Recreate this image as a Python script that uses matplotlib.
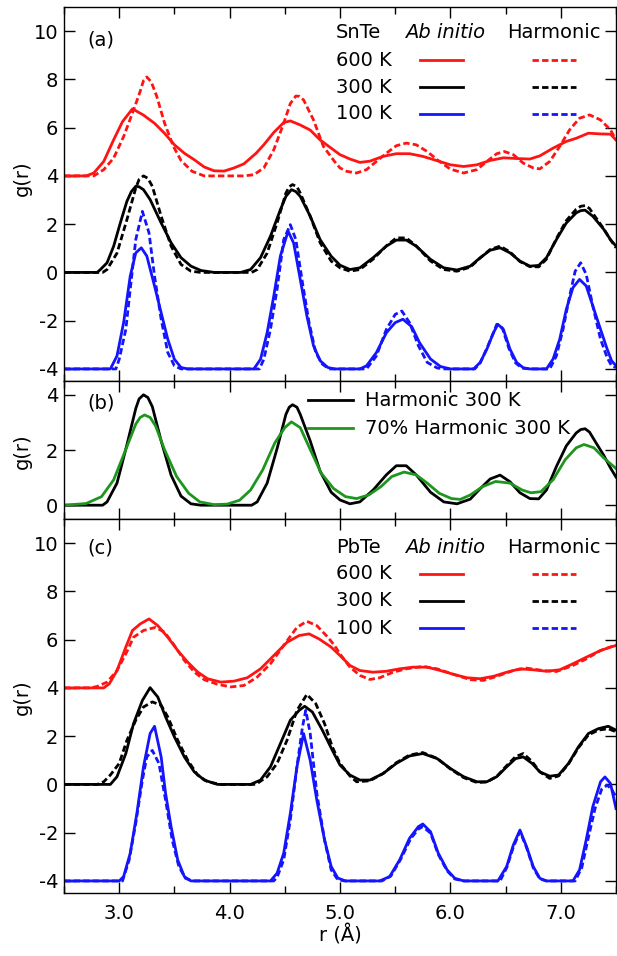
import matplotlib
matplotlib.use("Agg")
import matplotlib.pyplot as plt
from matplotlib.ticker import MultipleLocator, FormatStrFormatter

plt.rcParams['font.family'] = ['DejaVu Sans']
plt.rcParams['font.size'] = 14
plt.rcParams['axes.unicode_minus'] = False

###########--data: (r, g(r)), no offsets--###########

snte_600_ai = [(2.5, 0), (2.70, 0), (2.77, 0.12), (2.86, 0.6), (2.95, 1.5), (3.03, 2.25), (3.12, 2.78),
               (3.22, 2.52), (3.32, 2.18), (3.41, 1.77), (3.50, 1.29), (3.59, 0.94), (3.68, 0.67), (3.77, 0.37),
               (3.86, 0.21), (3.95, 0.2), (4.04, 0.33), (4.13, 0.5), (4.24, 0.94), (4.31, 1.29), (4.40, 1.8),
               (4.49, 2.21), (4.55, 2.28), (4.64, 2.11), (4.73, 1.9), (4.82, 1.49), (4.92, 1.15), (5.0, 0.88),
               (5.09, 0.7), (5.18, 0.56), (5.27, 0.61), (5.39, 0.81), (5.51, 0.92), (5.63, 0.92), (5.75, 0.81),
               (5.88, 0.63), (6.0, 0.46), (6.12, 0.39), (6.24, 0.46), (6.36, 0.64), (6.48, 0.75), (6.6, 0.72),
               (6.72, 0.7), (6.81, 0.83), (6.93, 1.15), (7.05, 1.43), (7.14, 1.56), (7.25, 1.77), (7.36, 1.74),
               (7.45, 1.73), (7.5, 1.49)]
snte_600_h = [(2.5, 0), (2.77, 0), (2.86, 0.26), (2.95, 0.74), (3.04, 1.63), (3.12, 2.6), (3.19, 3.5),
              (3.22, 3.95), (3.25, 4.1), (3.29, 3.9), (3.34, 3.3), (3.41, 2.2), (3.49, 1.23), (3.56, 0.64),
              (3.66, 0.19), (3.77, 0.0), (4.13, 0.0), (4.22, 0.05), (4.31, 0.33), (4.40, 1.08), (4.49, 2.18),
              (4.55, 3.0), (4.60, 3.31), (4.63, 3.3), (4.67, 3.15), (4.76, 2.32), (4.85, 1.22), (4.95, 0.6),
              (5.0, 0.33), (5.06, 0.19), (5.15, 0.12), (5.24, 0.26), (5.33, 0.6), (5.42, 0.94), (5.51, 1.25),
              (5.6, 1.36), (5.69, 1.29), (5.79, 1.01), (5.88, 0.67), (6.0, 0.28), (6.12, 0.12), (6.24, 0.26),
              (6.33, 0.6), (6.42, 0.92), (6.49, 1.01), (6.57, 0.88), (6.66, 0.53), (6.75, 0.33), (6.81, 0.29),
              (6.9, 0.6), (6.99, 1.22), (7.08, 1.91), (7.17, 2.39), (7.26, 2.53), (7.36, 2.32), (7.45, 1.91),
              (7.5, 1.49)]
snte_300_ai = [(2.5, 0), (2.80, 0), (2.83, 0.12), (2.89, 0.4), (2.95, 1.09), (3.01, 2.05), (3.07, 2.95),
               (3.11, 3.35), (3.15, 3.57), (3.18, 3.55), (3.22, 3.43), (3.28, 3.02), (3.38, 2.05), (3.47, 1.23),
               (3.56, 0.61), (3.65, 0.26), (3.74, 0.08), (3.86, 0.0), (4.10, 0.0), (4.19, 0.12), (4.28, 0.61),
               (4.37, 1.5), (4.46, 2.6), (4.51, 3.15), (4.56, 3.43), (4.60, 3.35), (4.64, 3.15), (4.73, 2.33),
               (4.82, 1.36), (4.92, 0.67), (5.0, 0.3), (5.09, 0.12), (5.18, 0.19), (5.3, 0.61), (5.42, 1.09),
               (5.51, 1.34), (5.6, 1.34), (5.69, 1.09), (5.82, 0.54), (5.94, 0.19), (6.06, 0.1), (6.18, 0.26),
               (6.27, 0.61), (6.36, 0.92), (6.45, 1.02), (6.54, 0.81), (6.63, 0.47), (6.72, 0.26), (6.8, 0.29),
               (6.87, 0.61), (6.96, 1.36), (7.05, 2.05), (7.14, 2.47), (7.18, 2.56), (7.22, 2.58), (7.29, 2.33),
               (7.39, 1.78), (7.45, 1.36), (7.5, 1.09)]
snte_300_h = [(2.5, 0), (2.85, 0), (2.89, 0.12), (2.98, 0.8), (3.07, 2.19), (3.15, 3.5), (3.18, 3.85),
              (3.22, 4.0), (3.26, 3.9), (3.30, 3.57), (3.38, 2.33), (3.47, 1.09), (3.56, 0.33), (3.65, 0.05),
              (3.74, 0), (4.20, 0), (4.25, 0.12), (4.34, 0.8), (4.43, 2.05), (4.51, 3.29), (4.54, 3.55),
              (4.57, 3.64), (4.61, 3.55), (4.64, 3.29), (4.73, 2.33), (4.82, 1.23), (4.92, 0.47), (5.0, 0.19),
              (5.09, 0.05), (5.18, 0.12), (5.3, 0.55), (5.42, 1.1), (5.51, 1.43), (5.6, 1.43), (5.69, 1.1),
              (5.82, 0.47), (5.94, 0.12), (6.06, 0.05), (6.18, 0.22), (6.27, 0.6), (6.36, 0.95), (6.45, 1.09),
              (6.54, 0.85), (6.63, 0.45), (6.72, 0.24), (6.8, 0.23), (6.87, 0.55), (6.96, 1.4), (7.05, 2.15),
              (7.14, 2.62), (7.18, 2.74), (7.22, 2.77), (7.26, 2.65), (7.29, 2.45), (7.39, 1.8), (7.45, 1.35),
              (7.5, 1.02)]
snte_100_ai = [(2.5, 0), (2.92, 0), (2.98, 0.54), (3.04, 1.92), (3.10, 3.85), (3.15, 4.81), (3.20, 5.02),
               (3.25, 4.68), (3.32, 3.44), (3.38, 2.33), (3.44, 1.23), (3.50, 0.4), (3.56, 0.06), (3.62, 0),
               (4.22, 0), (4.28, 0.4), (4.34, 1.5), (4.40, 3.02), (4.46, 4.68), (4.53, 5.71), (4.58, 5.22),
               (4.64, 3.71), (4.70, 2.2), (4.76, 0.96), (4.82, 0.34), (4.89, 0.06), (4.95, 0), (5.18, 0),
               (5.24, 0.13), (5.33, 0.68), (5.42, 1.5), (5.5, 1.92), (5.57, 2.06), (5.65, 1.75), (5.72, 1.09),
               (5.82, 0.41), (5.91, 0.1), (6.0, 0), (6.21, 0), (6.27, 0.27), (6.33, 0.82), (6.39, 1.5),
               (6.43, 1.85), (6.48, 1.64), (6.54, 0.82), (6.6, 0.27), (6.66, 0.05), (6.72, 0), (6.87, 0),
               (6.93, 0.41), (6.99, 1.23), (7.05, 2.47), (7.11, 3.37), (7.17, 3.71), (7.23, 3.44), (7.29, 2.61),
               (7.36, 1.64), (7.42, 0.82), (7.46, 0.34), (7.5, 0.13)]
snte_100_h = [(2.5, 0), (2.97, 0), (3.0, 0.4), (3.06, 1.64), (3.10, 3.3), (3.15, 5.36), (3.21, 6.53),
              (3.27, 5.64), (3.32, 3.85), (3.38, 2.06), (3.44, 0.68), (3.50, 0.13), (3.56, 0), (4.27, 0),
              (4.31, 0.4), (4.37, 1.64), (4.43, 3.3), (4.49, 5.36), (4.55, 5.98), (4.60, 5.36), (4.66, 3.57),
              (4.72, 1.92), (4.78, 0.68), (4.84, 0.2), (4.90, 0), (5.24, 0), (5.33, 0.54), (5.42, 1.64),
              (5.5, 2.26), (5.56, 2.4), (5.63, 1.92), (5.71, 0.96), (5.79, 0.27), (5.88, 0.04), (5.95, 0),
              (6.22, 0), (6.27, 0.25), (6.33, 0.85), (6.39, 1.5), (6.42, 1.85), (6.47, 1.7), (6.53, 0.85),
              (6.59, 0.25), (6.65, 0.03), (6.72, 0), (6.9, 0), (6.96, 0.54), (7.02, 1.64), (7.08, 3.02),
              (7.13, 4.05), (7.18, 4.4), (7.23, 3.92), (7.29, 2.61), (7.36, 1.23), (7.42, 0.47), (7.46, 0.13),
              (7.5, 0.05)]

# panel (b): 70 % of the harmonic force constants, SnTe 300 K
snte_300_h70 = [(2.5, 0), (2.7, 0.06), (2.84, 0.31), (2.95, 0.92), (3.06, 2.02), (3.15, 2.94), (3.19, 3.18),
                (3.23, 3.27), (3.28, 3.18), (3.33, 2.87), (3.41, 2.02), (3.52, 1.04), (3.63, 0.43), (3.73, 0.12),
                (3.86, 0.02), (3.98, 0.04), (4.09, 0.18), (4.19, 0.55), (4.30, 1.28), (4.41, 2.26), (4.50, 2.81),
                (4.56, 3.02), (4.64, 2.81), (4.73, 2.02), (4.83, 1.16), (4.94, 0.61), (5.05, 0.31), (5.15, 0.24),
                (5.26, 0.37), (5.37, 0.67), (5.47, 1.04), (5.58, 1.2), (5.69, 1.1), (5.79, 0.8), (5.90, 0.43),
                (6.01, 0.24), (6.09, 0.21), (6.18, 0.37), (6.29, 0.67), (6.41, 0.86), (6.54, 0.8), (6.65, 0.55),
                (6.73, 0.45), (6.82, 0.49), (6.93, 0.92), (7.04, 1.65), (7.14, 2.08), (7.21, 2.2), (7.3, 2.08),
                (7.39, 1.71), (7.5, 1.33)]

pbte_600_ai = [(2.5, 0), (2.86, 0), (2.91, 0.17), (2.98, 0.72), (3.06, 1.69), (3.12, 2.38), (3.19, 2.65),
               (3.27, 2.86), (3.35, 2.58), (3.44, 2.1), (3.53, 1.55), (3.62, 1.07), (3.71, 0.66), (3.80, 0.38),
               (3.92, 0.24), (4.04, 0.28), (4.16, 0.42), (4.28, 0.79), (4.40, 1.34), (4.52, 1.89), (4.63, 2.17),
               (4.72, 2.24), (4.81, 2.03), (4.92, 1.69), (5.0, 1.34), (5.09, 0.93), (5.18, 0.72), (5.3, 0.65),
               (5.42, 0.69), (5.54, 0.79), (5.66, 0.86), (5.79, 0.86), (5.91, 0.72), (6.03, 0.56), (6.15, 0.42),
               (6.27, 0.38), (6.39, 0.48), (6.51, 0.65), (6.63, 0.79), (6.75, 0.75), (6.87, 0.69), (6.99, 0.75),
               (7.11, 1.0), (7.23, 1.27), (7.36, 1.55), (7.45, 1.69), (7.5, 1.76)]
pbte_600_h = [(2.5, 0), (2.74, 0), (2.80, 0.06), (2.89, 0.24), (2.98, 0.72), (3.06, 1.41), (3.13, 2.1),
              (3.22, 2.38), (3.33, 2.51), (3.41, 2.31), (3.50, 1.76), (3.59, 1.14), (3.68, 0.66), (3.77, 0.34),
              (3.89, 0.15), (4.01, 0.04), (4.13, 0.1), (4.25, 0.45), (4.37, 1.0), (4.49, 1.76), (4.61, 2.51),
              (4.70, 2.76), (4.79, 2.58), (4.89, 2.1), (4.95, 1.76), (5.0, 1.41), (5.09, 0.86), (5.18, 0.52),
              (5.27, 0.35), (5.36, 0.42), (5.48, 0.65), (5.6, 0.79), (5.75, 0.89), (5.88, 0.79), (6.03, 0.56),
              (6.18, 0.34), (6.3, 0.31), (6.42, 0.48), (6.57, 0.72), (6.69, 0.82), (6.84, 0.72), (6.96, 0.68),
              (7.11, 0.93), (7.23, 1.2), (7.36, 1.55), (7.5, 1.78)]
pbte_300_ai = [(2.5, 0), (2.92, 0), (2.98, 0.32), (3.06, 1.28), (3.13, 2.52), (3.21, 3.48), (3.28, 4.01),
               (3.35, 3.62), (3.42, 2.8), (3.50, 1.97), (3.59, 1.14), (3.68, 0.52), (3.77, 0.18), (3.89, 0),
               (4.19, 0), (4.28, 0.18), (4.37, 0.73), (4.46, 1.69), (4.55, 2.66), (4.63, 3.07), (4.68, 3.24),
               (4.75, 3.0), (4.84, 2.25), (4.93, 1.42), (5.0, 0.8), (5.09, 0.39), (5.18, 0.18), (5.27, 0.18),
               (5.39, 0.45), (5.51, 0.87), (5.63, 1.18), (5.75, 1.28), (5.88, 1.07), (6.0, 0.66), (6.12, 0.32),
               (6.24, 0.11), (6.33, 0.11), (6.42, 0.32), (6.51, 0.73), (6.59, 1.07), (6.66, 1.14), (6.74, 0.87),
               (6.81, 0.52), (6.9, 0.34), (6.98, 0.39), (7.07, 0.87), (7.16, 1.56), (7.25, 2.11), (7.34, 2.31),
               (7.43, 2.41), (7.5, 2.25)]
pbte_300_h = [(2.5, 0), (2.80, 0), (2.86, 0.11), (2.92, 0.39), (3.0, 0.87), (3.07, 1.83), (3.15, 2.66),
              (3.22, 3.21), (3.30, 3.42), (3.38, 3.28), (3.44, 2.8), (3.53, 1.83), (3.62, 1.01), (3.71, 0.39),
              (3.80, 0.11), (3.92, 0), (4.22, 0), (4.25, 0.04), (4.34, 0.32), (4.43, 0.87), (4.52, 1.83),
              (4.61, 3.07), (4.70, 3.73), (4.78, 3.35), (4.86, 2.52), (4.93, 1.56), (5.0, 0.87), (5.09, 0.35),
              (5.15, 0.11), (5.27, 0.15), (5.39, 0.45), (5.51, 0.9), (5.63, 1.22), (5.75, 1.32), (5.88, 1.08),
              (6.0, 0.64), (6.12, 0.28), (6.24, 0.08), (6.33, 0.1), (6.42, 0.33), (6.51, 0.78), (6.59, 1.15),
              (6.66, 1.28), (6.74, 0.95), (6.81, 0.52), (6.9, 0.25), (6.98, 0.35), (7.07, 0.85), (7.16, 1.52),
              (7.25, 2.05), (7.34, 2.25), (7.43, 2.31), (7.5, 2.18)]
pbte_100_ai = [(2.5, 0), (3.0, 0), (3.04, 0.18), (3.10, 1.15), (3.16, 2.8), (3.22, 4.73), (3.28, 6.11),
               (3.32, 6.41), (3.38, 5.14), (3.42, 3.63), (3.47, 2.25), (3.53, 0.87), (3.59, 0.18), (3.65, 0),
               (4.37, 0), (4.43, 0.32), (4.49, 1.15), (4.55, 2.8), (4.61, 4.73), (4.67, 6.11), (4.73, 5.0),
               (4.79, 3.35), (4.86, 1.7), (4.92, 0.6), (4.98, 0.12), (5.05, 0), (5.36, 0), (5.45, 0.18),
               (5.54, 0.87), (5.63, 1.77), (5.71, 2.25), (5.75, 2.36), (5.82, 2.04), (5.89, 1.15), (5.97, 0.46),
               (6.04, 0.11), (6.12, 0), (6.43, 0), (6.51, 0.6), (6.57, 1.49), (6.63, 2.11), (6.69, 1.42),
               (6.75, 0.6), (6.81, 0.11), (6.87, 0), (7.11, 0), (7.17, 0.46), (7.23, 1.7), (7.29, 3.08),
               (7.36, 4.11), (7.40, 4.31), (7.45, 4.04), (7.5, 3.0)]
pbte_100_h = [(2.5, 0), (3.03, 0), (3.09, 0.87), (3.15, 2.39), (3.21, 4.18), (3.25, 5.14), (3.30, 5.41),
              (3.36, 4.87), (3.42, 3.35), (3.48, 1.7), (3.54, 0.6), (3.60, 0.11), (3.66, 0), (4.40, 0),
              (4.43, 0.15), (4.49, 0.87), (4.55, 2.53), (4.61, 4.73), (4.66, 6.38), (4.69, 7.07), (4.73, 6.11),
              (4.79, 3.63), (4.86, 1.7), (4.92, 0.46), (4.98, 0.05), (5.04, 0), (5.38, 0), (5.46, 0.2),
              (5.55, 0.9), (5.64, 1.75), (5.71, 2.15), (5.75, 2.25), (5.82, 1.98), (5.89, 1.1), (5.97, 0.42),
              (6.04, 0.08), (6.12, 0), (6.45, 0), (6.51, 0.55), (6.57, 1.4), (6.63, 2.05), (6.69, 1.38),
              (6.75, 0.55), (6.81, 0.08), (6.87, 0), (7.13, 0), (7.19, 0.55), (7.25, 1.8), (7.31, 3.0),
              (7.37, 3.8), (7.42, 3.97), (7.46, 3.8), (7.5, 3.48)]

temps = ["600 K", "300 K", "100 K"]
offsets = [4, 0, -4]
colors = ["#ff1414", "black", "#1414ff"]
snte_ai = [snte_600_ai, snte_300_ai, snte_100_ai]
snte_h = [snte_600_h, snte_300_h, snte_100_h]
pbte_ai = [pbte_600_ai, pbte_300_ai, pbte_100_ai]
pbte_h = [pbte_600_h, pbte_300_h, pbte_100_h]

green = "#1e961e"
lw = 2.0
dash = (2.3, 1.15)


def draw(ax, pts, offset, color, dashed=False):
    r, g = zip(*pts)
    gg = [v + offset for v in g]
    if dashed:
        ax.plot(r, gg, color=color, lw=lw, dashes=dash)
    else:
        ax.plot(r, gg, color=color, lw=lw)


def label(ax, x, y, s, **kw):
    ax.text(x, y, s, va="center", fontsize=14, transform=ax.transAxes, zorder=1, **kw)


def style(ax, ylim, yticks, xlabels):
    ax.set_xlim(2.5, 7.5)
    ax.set_ylim(*ylim)
    ax.set_yticks(yticks)
    ax.xaxis.set_major_locator(MultipleLocator(1.0))
    ax.xaxis.set_minor_locator(MultipleLocator(0.5))
    ax.xaxis.set_major_formatter(FormatStrFormatter("%.1f"))
    ax.tick_params(which="both", direction="in", top=True, right=True, width=1.0,
                   labelsize=14, labelbottom=xlabels)
    ax.tick_params(which="major", length=8)
    ax.tick_params(which="minor", length=5)
    ax.tick_params(axis="x", pad=8)
    ax.tick_params(axis="y", pad=4)
    for s in ax.spines.values():
        s.set_linewidth(1.0)


def key(ax, title, ys):
    # hand-made key: material / Ab initio / Harmonic columns
    label(ax, 0.493, ys[0], title)
    label(ax, 0.618, ys[0], "Ab initio", style="italic")
    label(ax, 0.8025, ys[0], "Harmonic")
    for t, c, y in zip(temps, colors, ys[1:]):
        label(ax, 0.493, y, t)
        ax.plot([0.645, 0.723], [y, y], color=c, lw=lw, transform=ax.transAxes)
        ax.plot([0.848, 0.9275], [y, y], color=c, lw=lw, dashes=dash, transform=ax.transAxes)


fig = plt.figure(figsize=(6.17, 9.56), dpi=100)
L, W = 64 / 617, 552 / 617
ax_a = fig.add_axes([L, 1 - 381 / 956, W, 374 / 956])
ax_b = fig.add_axes([L, 1 - 519 / 956, W, 138 / 956])
ax_c = fig.add_axes([L, 1 - 893 / 956, W, 374 / 956])

# (a) SnTe
for pa, ph, off, c in zip(snte_ai, snte_h, offsets, colors):
    draw(ax_a, ph, off, c, dashed=True)
    draw(ax_a, pa, off, c)
style(ax_a, (-4.5, 11), [-4, -2, 0, 2, 4, 6, 8, 10], False)
key(ax_a, "SnTe", [0.931, 0.858, 0.786, 0.714])
label(ax_a, 0.042, 0.912, "(a)")
ax_a.set_ylabel("g(r)", fontsize=14)
ax_a.yaxis.set_label_coords(-0.058, 0.543)

# (b) harmonic vs 70 % harmonic
draw(ax_b, snte_300_h, 0, "black")
draw(ax_b, snte_300_h70, 0, green)
style(ax_b, (-0.5, 4.5), [0, 2, 4], False)
ax_b.plot([0.442, 0.524], [0.862, 0.862], color="black", lw=lw, transform=ax_b.transAxes)
ax_b.plot([0.442, 0.524], [0.657, 0.657], color=green, lw=lw, transform=ax_b.transAxes)
label(ax_b, 0.545, 0.862, "Harmonic 300 K")
label(ax_b, 0.545, 0.657, "70% Harmonic 300 K")
label(ax_b, 0.042, 0.84, "(b)")
ax_b.set_ylabel("g(r)", fontsize=14)
ax_b.yaxis.set_label_coords(-0.058, 0.488)

# (c) PbTe
for pa, ph, off, c in zip(pbte_ai, pbte_h, offsets, colors):
    draw(ax_c, ph, off, c, dashed=True)
    draw(ax_c, pa, off, c)
style(ax_c, (-4.5, 11), [-4, -2, 0, 2, 4, 6, 8, 10], True)
key(ax_c, "PbTe", [0.924, 0.853, 0.781, 0.708])
label(ax_c, 0.042, 0.922, "(c)")
ax_c.set_ylabel("g(r)", fontsize=14)
ax_c.yaxis.set_label_coords(-0.058, 0.523)
ax_c.set_xlabel("r (Å)", fontsize=14, labelpad=1)

fig.savefig("out.png", dpi=100)
